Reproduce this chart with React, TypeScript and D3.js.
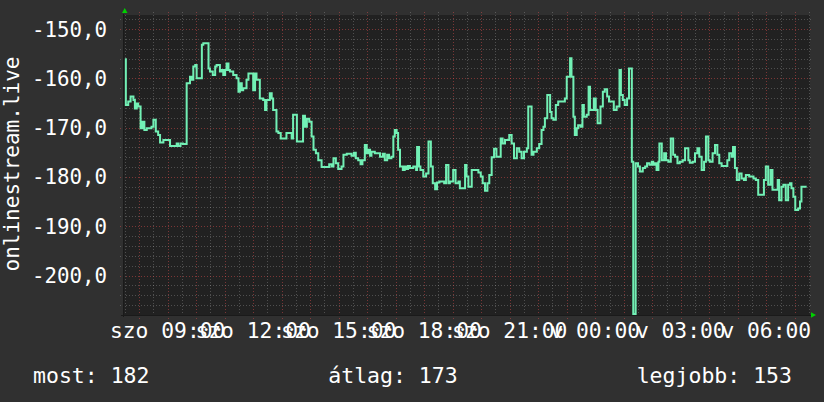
import React, { useRef, useEffect } from 'react';
import * as d3 from 'd3';

// Step samples: minutes since Saturday 00:00, and the value holding from that minute on
const sampleMinutes = [
  450, 452, 457, 462, 468, 471, 475, 478, 483, 487, 491, 496, 506, 510, 515, 520, 524, 531, 545, 559,
  562, 567, 572, 580, 587, 591, 594, 598, 601, 612, 615, 626, 629, 635, 640, 643, 650, 654, 657, 661,
  664, 668, 671, 678, 685, 689, 692, 696, 699, 706, 710, 720, 724, 727, 734, 741, 745, 748, 755, 759,
  762, 769, 773, 778, 790, 801, 804, 812, 825, 829, 833, 838, 843, 847, 852, 857, 864, 880, 885, 889,
  894, 899, 906, 910, 917, 927, 932, 936, 941, 946, 950, 955, 959, 962, 966, 969, 976, 987, 993, 997,
  1002, 1006, 1011, 1015, 1018, 1022, 1025, 1029, 1035, 1039, 1043, 1046, 1050, 1057, 1063, 1065, 1069, 1072, 1078, 1084,
  1089, 1094, 1098, 1103, 1107, 1112, 1122, 1126, 1131, 1134, 1141, 1146, 1152, 1155, 1166, 1169, 1173, 1180, 1194, 1199,
  1203, 1208, 1213, 1217, 1222, 1227, 1232, 1241, 1245, 1250, 1259, 1264, 1269, 1275, 1280, 1285, 1290, 1296, 1299, 1306,
  1310, 1317, 1322, 1327, 1331, 1334, 1339, 1345, 1348, 1352, 1357, 1362, 1376, 1380, 1387, 1390, 1394, 1397, 1401, 1404,
  1409, 1413, 1416, 1422, 1426, 1429, 1437, 1441, 1445, 1451, 1456, 1460, 1465, 1469, 1479, 1485, 1491, 1494, 1498, 1502,
  1507, 1511, 1517, 1520, 1525, 1530, 1534, 1540, 1545, 1549, 1554, 1559, 1562, 1566, 1569, 1573, 1575, 1580, 1585, 1589,
  1594, 1599, 1604, 1608, 1613, 1618, 1624, 1629, 1636, 1639, 1645, 1650, 1655, 1659, 1664, 1669, 1673, 1678, 1681, 1687,
  1692, 1697, 1701, 1706, 1718, 1722, 1727, 1730, 1734, 1738, 1743, 1748, 1753, 1757, 1764, 1773, 1778, 1783, 1795, 1799,
  1804, 1809, 1813, 1824, 1827, 1832, 1836, 1841, 1846, 1850, 1853, 1857, 1861, 1867, 1871, 1874, 1885,
];

const latency = [
  -156.1, -165.4, -164.7, -163.7, -164.4, -166.1, -165.1, -165.7, -170.1, -168.8, -170.5, -170.1, -169.8, -168.4, -170.8, -171.5, -173.0, -172.5, -173.7, -173.2,
  -173.7, -173.2, -173.3, -161.0, -159.7, -160.3, -157.6, -157.3, -160.0, -153.2, -152.9, -158.0, -158.6, -159.3, -157.6, -157.3, -158.6, -158.3, -159.3, -158.3,
  -157.0, -158.3, -158.6, -159.3, -160.0, -162.7, -161.0, -162.4, -162.0, -160.3, -159.0, -162.4, -159.0, -160.3, -164.1, -164.4, -166.4, -164.4, -163.0, -164.1,
  -166.4, -170.8, -171.1, -172.2, -171.1, -172.2, -167.4, -172.8, -167.6, -169.8, -168.2, -168.8, -171.8, -174.5, -175.2, -176.6, -178.0, -177.4, -177.9, -176.2,
  -177.2, -178.4, -177.9, -175.5, -175.3, -175.7, -175.1, -176.2, -176.6, -177.4, -176.6, -173.5, -175.2, -174.5, -175.7, -174.9, -175.2, -175.9, -175.3, -176.6,
  -175.5, -176.2, -175.9, -171.8, -170.5, -171.1, -174.5, -177.9, -178.6, -177.9, -178.4, -177.8, -178.2, -177.9, -178.6, -173.9, -177.9, -178.6, -179.9, -179.3,
  -172.8, -177.9, -181.3, -182.5, -181.1, -180.9, -181.3, -177.6, -181.3, -180.9, -178.6, -181.3, -180.9, -182.3, -177.6, -179.9, -182.0, -178.6, -179.1, -179.9,
  -181.3, -182.8, -181.3, -179.6, -176.0, -174.3, -175.9, -172.2, -173.2, -172.5, -171.5, -173.2, -176.2, -174.2, -174.9, -176.2, -174.9, -174.2, -165.7, -175.5,
  -174.9, -174.2, -173.3, -170.5, -169.8, -168.1, -163.4, -166.8, -168.1, -168.4, -165.4, -164.7, -164.1, -159.7, -155.9, -159.7, -167.8, -171.5, -170.1, -169.5,
  -169.8, -165.4, -167.8, -167.4, -161.7, -166.4, -164.1, -166.4, -169.1, -165.7, -162.7, -162.2, -163.7, -164.7, -166.4, -165.7, -158.3, -163.4, -164.4, -165.4,
  -164.1, -158.0, -176.9, -207.8, -177.2, -177.9, -178.9, -178.2, -177.9, -177.2, -177.5, -176.9, -177.5, -177.2, -178.6, -176.9, -173.2, -176.6, -175.2, -176.6,
  -176.9, -172.2, -175.5, -175.9, -177.2, -176.9, -176.6, -174.2, -176.6, -177.1, -176.9, -175.2, -174.2, -175.9, -178.6, -176.9, -171.8, -176.6, -176.9, -175.2,
  -173.5, -175.5, -177.2, -177.8, -176.6, -175.2, -175.9, -173.9, -178.2, -180.6, -179.3, -180.3, -180.6, -179.6, -179.9, -180.3, -180.6, -183.6, -180.6, -177.9,
  -181.6, -178.6, -182.6, -180.6, -184.7, -182.0, -181.6, -184.7, -181.6, -181.3, -182.3, -184.0, -186.7, -186.4, -185.0, -182.0, -182.0,
];

// Hungarian short day names, Sunday first (Date.getDay order)
const dayNames = ['v', 'h', 'k', 'sze', 'cs', 'p', 'szo'];
const axisTitle = 'onlinestream.live';
const legendLabels = ['most', 'átlag', 'legjobb'];
const legendValues = [182, 173, 153];

// visible window, minutes since Saturday 00:00
const windowStart = 446;
const windowEnd = 1892;
const valueDomain = [-208.0, -147.15];

const Chart = ({ width = 824, height = 402 }) => {
  const svgRef = useRef(null);

  useEffect(() => {
    const plot = { left: 123, right: 810, top: 15, bottom: 315 };
    const font = '"DejaVu Sans Mono", monospace';
    const base = new Date(2024, 2, 16); // a Saturday
    const toDate = (m: number) => d3.timeMinute.offset(base, m);

    const svg = d3.select(svgRef.current)
      .attr('width', width)
      .attr('height', height)
      .html('');

    svg.append('rect')
      .attr('width', width)
      .attr('height', height)
      .attr('fill', '#303030');

    const x = d3.scaleTime()
      .domain([toDate(windowStart), toDate(windowEnd)])
      .range([plot.left, plot.right]);

    const y = d3.scaleLinear()
      .domain(valueDomain)
      .range([plot.bottom, plot.top]);

    svg.append('rect')
      .attr('x', plot.left)
      .attr('y', plot.top)
      .attr('width', plot.right - plot.left)
      .attr('height', plot.bottom - plot.top)
      .attr('fill', '#212121');

    const px = (v: number) => Math.round(v) + 0.5;
    const minorColor = 'rgba(200,200,200,0.28)';
    const majorColor = 'rgba(230,80,80,0.45)';
    const grid = svg.append('g').attr('stroke-width', 1).attr('stroke-dasharray', '1,2');

    // --- Horizontal grid ---
    const yMajor = y.ticks(6);
    const yMinor = d3.range(-206, -147, 2).filter(v => v % 10 !== 0);
    grid.selectAll('.hmin').data(yMinor).join('line')
      .attr('x1', plot.left - 3).attr('x2', plot.right + 2)
      .attr('y1', d => px(y(d))).attr('y2', d => px(y(d)))
      .attr('stroke', minorColor);

    // --- Vertical grid ---
    const hours = x.ticks(d3.timeHour.every(1));
    const halfHours = x.ticks(d3.timeMinute.every(30)).filter(d => d.getMinutes() !== 0);
    grid.selectAll('.vmin').data(halfHours).join('line')
      .attr('x1', d => px(x(d))).attr('x2', d => px(x(d)))
      .attr('y1', plot.top - 3).attr('y2', plot.bottom + 3)
      .attr('stroke', minorColor);

    grid.selectAll('.hmaj').data(yMajor).join('line')
      .attr('x1', plot.left - 3).attr('x2', plot.right + 2)
      .attr('y1', d => px(y(d))).attr('y2', d => px(y(d)))
      .attr('stroke', majorColor);

    grid.selectAll('.vmaj').data(hours).join('line')
      .attr('x1', d => px(x(d))).attr('x2', d => px(x(d)))
      .attr('y1', plot.top - 3).attr('y2', plot.bottom + 4)
      .attr('stroke', majorColor);

    // --- Axis lines and arrows ---
    svg.append('line')
      .attr('x1', plot.left - 2).attr('x2', plot.right + 1)
      .attr('y1', plot.bottom + 0.5).attr('y2', plot.bottom + 0.5)
      .attr('stroke', '#1a1a1a');
    svg.append('line')
      .attr('x1', plot.left + 0.5).attr('x2', plot.left + 0.5)
      .attr('y1', plot.top - 1).attr('y2', plot.bottom + 2)
      .attr('stroke', '#1a1a1a');

    svg.append('path')
      .attr('d', `M${plot.left - 1},${plot.top - 2}L${plot.left + 4.5},${plot.top - 2}L${plot.left + 1.75},${plot.top - 7}Z`)
      .attr('fill', '#00d000');
    svg.append('path')
      .attr('d', `M${plot.right + 1},${plot.bottom - 2.75}L${plot.right + 1},${plot.bottom + 2.75}L${plot.right + 6},${plot.bottom}Z`)
      .attr('fill', '#00d000');

    // --- Data line ---
    const points = sampleMinutes.map((m, i) => ({ t: toDate(m), v: latency[i] }));
    const line = d3.line<any>()
      .x(d => x(d.t))
      .y(d => y(d.v))
      .curve(d3.curveStepAfter);

    svg.append('path')
      .datum(points)
      .attr('fill', 'none')
      .attr('stroke', '#72f0b5')
      .attr('stroke-width', 2)
      .attr('stroke-linejoin', 'miter')
      .attr('d', line);

    // --- Tick labels ---
    const fmtValue = (v: number) => d3.format('.1f')(v).replace('.', ',').replace('−', '-');
    svg.append('g').selectAll('text').data(yMajor).join('text')
      .attr('x', 107)
      .attr('y', d => y(d))
      .attr('dy', '0.36em')
      .attr('text-anchor', 'end')
      .style('font-family', font)
      .style('font-size', '20.8px')
      .style('fill', '#ffffff')
      .text(d => fmtValue(d));

    const fmtHour = d3.timeFormat('%H:%M');
    svg.append('g').selectAll('text').data(x.ticks(d3.timeHour.every(3))).join('text')
      .attr('x', d => x(d))
      .attr('y', 338)
      .attr('text-anchor', 'middle')
      .style('font-family', font)
      .style('font-size', '21.3px')
      .style('fill', '#ffffff')
      .text(d => `${dayNames[d.getDay()]} ${fmtHour(d)}`);

    // --- Axis title ---
    svg.append('text')
      .attr('transform', `translate(19, ${(plot.top + plot.bottom) / 2 - 1}) rotate(-90)`)
      .attr('text-anchor', 'middle')
      .style('font-family', font)
      .style('font-size', '21px')
      .style('fill', '#ffffff')
      .text(axisTitle);

    // --- Legend ---
    const legendX = [33, 393, 792];
    const legendAnchor = ['start', 'middle', 'end'];
    svg.append('g').selectAll('text').data(legendLabels).join('text')
      .attr('x', (d, i) => legendX[i])
      .attr('y', 383)
      .attr('text-anchor', (d, i) => legendAnchor[i])
      .style('font-family', font)
      .style('font-size', '21.5px')
      .style('fill', '#ffffff')
      .text((d, i) => `${d}: ${legendValues[i]}`);
  }, [width, height]);

  return (
    <svg ref={svgRef} style={{ position: 'absolute', left: 0, top: 0, display: 'block' }}></svg>
  );
};

export default function App() {
  return <Chart />;
}
